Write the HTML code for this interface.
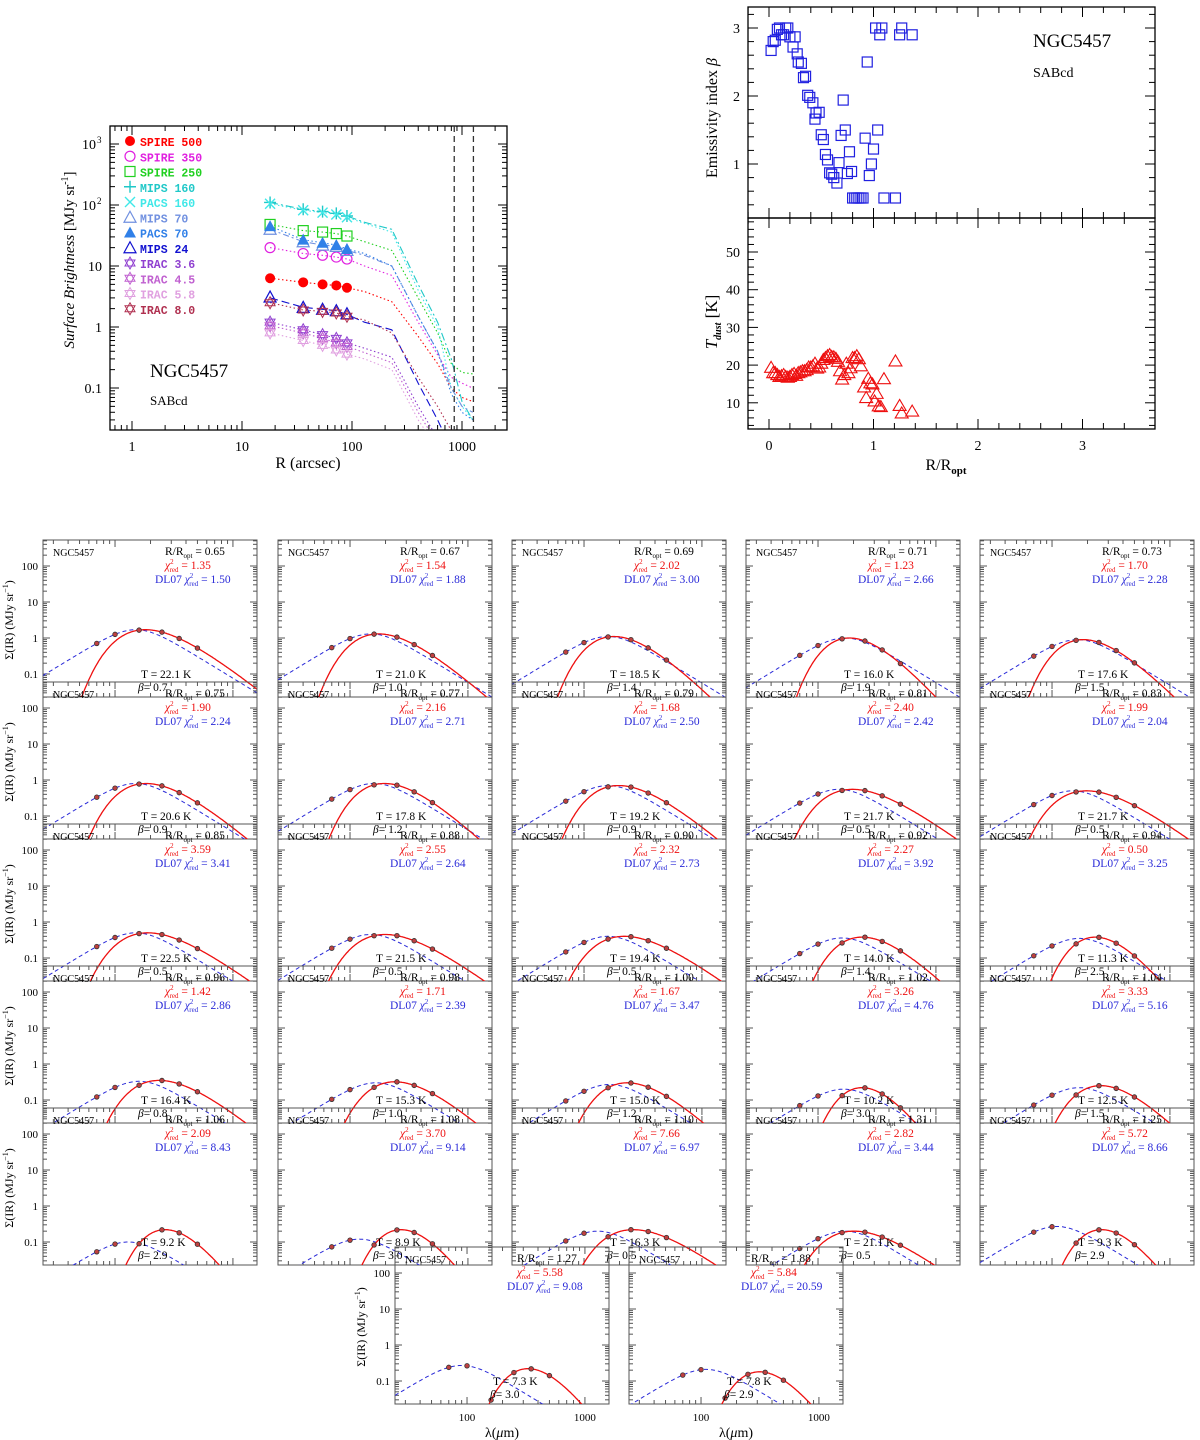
<!DOCTYPE html>
<html><head><meta charset="utf-8"><style>
body{margin:0;background:#fff;}
svg{display:block;font-family:"Liberation Serif","DejaVu Serif",serif;}
</style></head><body>
<svg id="fig" width="1200" height="1440" xmlns="http://www.w3.org/2000/svg"></svg>
<script>
// ---------- Profile data (top-left) ----------
const bandNames=["SPIRE 500","SPIRE 350","SPIRE 250","MIPS 160","PACS 160","MIPS 70","PACS 70","MIPS 24","IRAC 3.6","IRAC 4.5","IRAC 5.8","IRAC 8.0"];
const bandColors=["#ff0000","#e020e0","#20d020","#20c8c8","#40e8e8","#7090e0","#3080e8","#1010d0","#9040d0","#c060d0","#e0a0e0","#b03050"];
const bandSymbols=["fcircle","ocircle","square","plus","cross","otri","ftri","otri","star","star","star","star"];
const profR=[18,36,54,72,90];
const profVals=[
 [6.3,5.4,5.0,4.8,4.4],[20,16,15,14,13],[48,38,36,34,31],[110,85,78,73,66],[105,82,75,70,63],
 [40,25,22,21,18],[45,27,24,22,19],[3.1,2.1,1.95,1.85,1.65],[1.2,0.9,0.75,0.65,0.55],
 [1.05,0.8,0.65,0.55,0.48],[0.8,0.6,0.5,0.42,0.36],[2.5,1.9,1.8,1.7,1.5]];
const lineR=[18,36,54,72,90,130,230,400,600,800,1000,1250];
const lineVals=[
 [6.3,5.4,5.0,4.8,4.4,3.8,2.6,0.7,0.25,0.1,0.07,0.06],
 [20,16,15,14,13,10,7,1.2,0.35,0.15,0.12,0.1],
 [48,38,36,34,31,25,18,3,0.8,0.25,0.18,0.17],
 [110,85,78,73,66,52,40,5,1.2,0.3,0.06,0.03],
 [105,82,75,70,63,50,36,4,1.0,0.1,0.05,0.03],
 [40,25,22,21,18,15,10,1.5,0.4,0.1,0.05,0.04],
 [45,27,24,22,19,16,10,1.5,0.4,0.08,0.04,0.03],
 [3.0,2.1,1.95,1.85,1.6,1.2,0.9,0.12,0.03,0.01,0.01,0.01],
 [1.2,0.9,0.75,0.65,0.55,0.45,0.32,0.05,0.015,0.01,0.01,0.01],
 [1.05,0.8,0.65,0.55,0.48,0.38,0.26,0.04,0.012,0.01,0.01,0.01],
 [0.8,0.6,0.5,0.42,0.36,0.3,0.2,0.03,0.01,0.01,0.01,0.01],
 [2.5,1.9,1.8,1.7,1.5,1.3,0.8,0.15,0.05,0.02,0.015,0.01]];
const vlineR=[850,1270];
// ---------- Beta / T data (top-right) ----------
const betaR=[0.02,0.04,0.06,0.08,0.1,0.12,0.14,0.16,0.18,0.2,0.23,0.25,0.27,0.28,0.31,0.33,0.35,0.37,0.39,0.42,0.44,0.45,0.48,0.5,0.52,0.54,0.56,0.58,0.6,0.62,0.65,0.67,0.69,0.71,0.73,0.75,0.77,0.79,0.8,0.82,0.84,0.86,0.88,0.9,0.92,0.94,0.96,0.98,1.0,1.02,1.04,1.06,1.08,1.1,1.21,1.25,1.27,1.37];
const betaV=[2.67,2.8,2.82,2.98,3.0,2.9,2.9,3.0,3.0,2.87,2.72,2.87,2.62,2.5,2.48,2.27,2.29,2.01,1.98,1.9,1.66,1.75,1.76,1.43,1.36,1.14,1.06,0.87,0.85,0.8,0.72,1.02,1.42,1.94,1.5,0.86,1.18,0.89,0.5,0.5,0.5,0.5,0.5,0.5,1.38,2.5,0.83,1.0,1.22,3.0,1.5,2.9,3.0,0.5,0.5,2.9,3.0,2.9];
const tR=[0.02,0.04,0.06,0.08,0.1,0.12,0.14,0.16,0.18,0.2,0.22,0.24,0.26,0.28,0.3,0.32,0.34,0.36,0.38,0.4,0.42,0.44,0.46,0.48,0.5,0.52,0.54,0.56,0.58,0.6,0.62,0.64,0.66,0.68,0.7,0.72,0.74,0.76,0.78,0.8,0.82,0.84,0.86,0.88,0.91,0.93,0.95,0.97,0.99,1.01,1.03,1.05,1.07,1.1,1.21,1.25,1.27,1.37];
const tV=[19.4,18,18,17.5,17,17.2,17.5,17,16.8,17,17.5,17.8,17.3,18,18.2,18.5,18.5,18.8,19.5,19.5,19.8,20.5,19.2,19.5,20.5,21.5,22,22.5,22.8,22.3,22.2,21.8,21,18.5,16.3,17.5,20.5,18,19.3,22,22,22.5,21.7,19.8,14.2,11.4,16.5,15.3,15,10.5,12.5,9.2,9,16.4,21.1,9.3,7.3,7.8];
// ---------- SED panels ----------
const sedRopt=["0.65","0.67","0.69","0.71","0.73","0.75","0.77","0.79","0.81","0.83","0.85","0.88","0.90","0.92","0.94","0.96","0.98","1.00","1.02","1.04","1.06","1.08","1.10","1.31","1.25","1.27","1.88"];
const sedChi=["1.35","1.54","2.02","1.23","1.70","1.90","2.16","1.68","2.40","1.99","3.59","2.55","2.32","2.27","0.50","1.42","1.71","1.67","3.26","3.33","2.09","3.70","7.66","2.82","5.72","5.58","5.84"];
const sedDL=["1.50","1.88","3.00","2.66","2.28","2.24","2.71","2.50","2.42","2.04","3.41","2.64","2.73","3.92","3.25","2.86","2.39","3.47","4.76","5.16","8.43","9.14","6.97","3.44","8.66","9.08","20.59"];
const sedT=[22.1,21.0,18.5,16.0,17.6,20.6,17.8,19.2,21.7,21.7,22.5,21.5,19.4,14.0,11.3,16.4,15.3,15.0,10.2,12.5,9.2,8.9,16.3,21.1,9.3,7.3,7.8];
const sedBeta=[0.7,1.0,1.4,1.9,1.5,0.9,1.2,0.9,0.5,0.5,0.5,0.5,0.5,1.4,2.5,0.8,1.0,1.2,3.0,1.5,2.9,3.0,0.5,0.5,2.9,3.0,2.9];
const sedPeak=[1.7,1.3,1.1,1.0,0.9,0.8,0.8,0.7,0.55,0.5,0.5,0.45,0.4,0.38,0.38,0.35,0.32,0.3,0.22,0.25,0.22,0.22,0.22,0.2,0.22,0.22,0.18];
const dlPeakWav=[150,150,160,170,165,150,160,160,150,150,150,150,160,160,170,160,165,165,165,170,130,120,130,170,110,90,110];
const dlPeakVal=[1.7,1.3,1.1,1.0,0.9,0.8,0.8,0.7,0.55,0.5,0.5,0.45,0.4,0.36,0.35,0.33,0.3,0.27,0.2,0.22,0.1,0.12,0.2,0.2,0.27,0.27,0.21];
const sedBands=[70,100,160,250,350,500];

const svg=document.getElementById('fig');
const NS="http://www.w3.org/2000/svg";
function el(tag,attrs,parent){const e=document.createElementNS(NS,tag);for(const k in attrs)e.setAttribute(k,attrs[k]);(parent||svg).appendChild(e);return e;}
function txt(x,y,s,size,color,parent,anchor){const t=el('text',{x:x,y:y,'font-size':size,fill:color||'#000','text-anchor':anchor||'start'},parent);t.textContent=s;return t;}
const L=Math.log10;

// ================= Top-left profile plot =================
(function(){
 const g=el('g',{});
 
 
 const x0=110,x1=507,y0=126,y1=430;
 const X=r=>132+110*L(r), Y=v=>327-61*L(v);
 const cp=el('clipPath',{id:'cpProf'},g);el('rect',{x:x0,y:y0,width:x1-x0,height:y1-y0},cp);
 const frame=el('rect',{x:x0,y:y0,width:x1-x0,height:y1-y0,fill:'none',stroke:'#000','stroke-width':1.3},g);
 
 
 for(let d=-1;d<=3;d++)for(let m=1;m<10;m++){const r=m*Math.pow(10,d);const x=X(r);if(x<x0||x>x1)continue;const len=m==1?9:5;
  el('line',{x1:x,x2:x,y1:y1,y2:y1-len,stroke:'#000'},g);el('line',{x1:x,x2:x,y1:y0,y2:y0+len,stroke:'#000'},g);}
 for(let d=-2;d<=3;d++)for(let m=1;m<10;m++){const v=m*Math.pow(10,d);const y=Y(v);if(y<y0||y>y1)continue;const len=m==1?9:5;
  el('line',{y1:y,y2:y,x1:x0,x2:x0+len,stroke:'#000'},g);el('line',{y1:y,y2:y,x1:x1,x2:x1-len,stroke:'#000'},g);}
 [["1",1],["10",10],["100",100],["1000",1000]].forEach(([s,r])=>{const t=txt(X(r),451,s,14,'#000',g,'middle');});
 [["0.1",0.1],["1",1],["10",10]].forEach(([s,v])=>{const t=txt(102,Y(v)+5,s,14,'#000',g,'end');});
 [["10",100,"2"],["10",1000,"3"]].forEach(([s,v,e])=>{const t=txt(96,Y(v)+5,s,14,'#000',g,'end');const s2=txt(97,Y(v)-1,e,9,'#000',g);});
 const xt=txt(308,468,"R (arcsec)",16,'#000',g,'middle');
 const yt=el('text',{x:0,y:0,'font-size':15,'text-anchor':'middle',transform:'translate(74,260) rotate(-90)'},g);
 
 yt.innerHTML='<tspan font-style="italic">Surface Brightness</tspan> [MJy sr<tspan dy="-6" font-size="10">-1</tspan><tspan dy="6">]</tspan>';
 const lg=el('g',{'clip-path':'url(#cpProf)'},g);
 const dash=["1.5 2.5","1.5 2.5","1.5 2.5","8 3 2 3","1.5 2.5","6 3 2 3","1.5 2.5","8 4","1.5 2.5","1.5 2.5","1.5 2.5","1.5 2.5"];
 lineVals.forEach((vals,i)=>{const pts=lineR.map((r,j)=>X(r).toFixed(1)+','+Y(vals[j]).toFixed(1)).join(' ');
  const p=el('polyline',{points:pts,fill:'none',stroke:bandColors[i],'stroke-width':1.1,'stroke-dasharray':dash[i]},lg);
  });
 vlineR.forEach(r=>{const l=el('line',{x1:X(r),x2:X(r),y1:y0,y2:y1,stroke:'#333','stroke-width':1.3,'stroke-dasharray':'6 4'},g);});
 function sym(type,x,y,c,s,par){
  if(type=='fcircle')return el('circle',{cx:x,cy:y,r:s,fill:c},par);
  if(type=='ocircle')return el('circle',{cx:x,cy:y,r:s,fill:'none',stroke:c,'stroke-width':1.2},par);
  if(type=='square')return el('rect',{x:x-s,y:y-s,width:2*s,height:2*s,fill:'none',stroke:c,'stroke-width':1.2},par);
  if(type=='plus')return el('path',{d:`M${x-s-1},${y}h${2*s+2}M${x},${y-s-1}v${2*s+2}`,stroke:c,'stroke-width':1.4},par);
  if(type=='cross')return el('path',{d:`M${x-s},${y-s}L${x+s},${y+s}M${x-s},${y+s}L${x+s},${y-s}`,stroke:c,'stroke-width':1.4},par);
  if(type=='otri')return el('path',{d:`M${x},${y-s-1}L${x+s+1},${y+s}L${x-s-1},${y+s}Z`,fill:'none',stroke:c,'stroke-width':1.2},par);
  if(type=='ftri')return el('path',{d:`M${x},${y-s-1}L${x+s+1},${y+s}L${x-s-1},${y+s}Z`,fill:c},par);
  if(type=='star'){const a=`M${x},${y-s-1}L${x+s},${y+s*0.6}L${x-s},${y+s*0.6}Z`,b=`M${x},${y+s+1}L${x+s},${y-s*0.6}L${x-s},${y-s*0.6}Z`;return el('path',{d:a+b,fill:'none',stroke:c,'stroke-width':1},par);}
 }
 profVals.forEach((vals,i)=>{vals.forEach((v,j)=>{const m=sym(bandSymbols[i],X(profR[j]),Y(v),bandColors[i],5,g);
  });});
 bandNames.forEach((n,i)=>{const y=142+15.25*i;const m=sym(bandSymbols[i],130,y-1,bandColors[i],5,g);
  const t=txt(140,y+4,n,11.5,bandColors[i],g);t.setAttribute('font-family','Liberation Mono, monospace');t.setAttribute('font-weight','bold');
  });
 const n1=txt(150,377,"NGC5457",19,'#000',g);
 const n2=txt(150,405,"SABcd",13,'#000',g);
})();

// ================= Top-right beta & T plot =================
(function(){
 const g=el('g',{});
 
 
 const x0=748,x1=1155,ya=7,ym=218,yb=429;
 const X=r=>769+104.5*r, YB=b=>28+(3-b)*68, YT=t=>252+(50-t)*3.77;
 [[ya,ym],[ym,yb]].forEach(([a,b],k)=>{const f=el('rect',{x:x0,y:a,width:x1-x0,height:b-a,fill:'none',stroke:'#000','stroke-width':1.3},g);
  });
 for(let r=-0.2;r<=3.6;r+=0.2){const rr=Math.round(r*10)/10;const x=X(rr);if(x<x0||x>x1)continue;const big=Math.abs(rr-Math.round(rr))<0.01;const len=big?10:6;
  [ya,ym,yb].forEach((y,k)=>{if(k!=0)el('line',{x1:x,x2:x,y1:y,y2:y-len,stroke:'#000'},g);if(k!=2)el('line',{x1:x,x2:x,y1:y,y2:y+len,stroke:'#000'},g);});}
 for(let b=0.4;b<=3.3;b+=0.2){const bb=Math.round(b*10)/10;const y=YB(bb);if(y<ya||y>ym)continue;const big=Math.abs(bb-Math.round(bb))<0.01;const len=big?10:6;
  el('line',{x1:x0,x2:x0+len,y1:y,y2:y,stroke:'#000'},g);el('line',{x1:x1,x2:x1-len,y1:y,y2:y,stroke:'#000'},g);}
 for(let t=4;t<=58;t+=2){const y=YT(t);if(y<ym||y>yb)continue;const big=t%10==0;const len=big?10:6;
  el('line',{x1:x0,x2:x0+len,y1:y,y2:y,stroke:'#000'},g);el('line',{x1:x1,x2:x1-len,y1:y,y2:y,stroke:'#000'},g);}
 [1,2,3].forEach(b=>{const t=txt(740,YB(b)+5,String(b),14,'#000',g,'end');});
 [10,20,30,40,50].forEach(v=>{const t=txt(740,YT(v)+5,String(v),14,'#000',g,'end');});
 [0,1,2,3].forEach(v=>{const t=txt(X(v),450,String(v),14,'#000',g,'middle');});
 const xt=el('text',{x:946,y:470,'font-size':16,'text-anchor':'middle'},g);xt.innerHTML='R/R<tspan dy="4" font-size="11" font-weight="bold">opt</tspan>';
 
 const yb1=el('text',{x:0,y:0,'font-size':16,'text-anchor':'middle',transform:'translate(717,118) rotate(-90)'},g);
 yb1.innerHTML='Emissivity index <tspan font-style="italic">β</tspan>';
 const yt1=el('text',{x:0,y:0,'font-size':17,'text-anchor':'middle',transform:'translate(717,322) rotate(-90)'},g);
 yt1.innerHTML='<tspan font-style="italic">T</tspan><tspan dy="4" font-size="10" font-style="italic" font-weight="bold">dust</tspan><tspan dy="-4"> [K]</tspan>';
 
 const n1=txt(1033,47,"NGC5457",19,'#000',g);
 const n2=txt(1033,77,"SABcd",14,'#000',g);
 betaR.forEach((r,i)=>{const m=el('rect',{x:X(r)-5,y:YB(betaV[i])-5,width:10,height:10,fill:'none',stroke:'#2020e0','stroke-width':1.2},g);
  });
 tR.forEach((r,i)=>{const x=X(r),y=YT(tV[i]);const m=el('path',{d:`M${x},${y-6}L${x+6.5},${y+5}L${x-6.5},${y+5}Z`,fill:'none',stroke:'#ee1010','stroke-width':1.1},g);
  });
})();

// ================= SED panels =================
function mbb(lam,T,b){const nu=1/lam;return Math.pow(nu,3+b)/(Math.exp(14388/(lam*T))-1);}
function dlShape(u){const a=2.0,b=2.0,k=a/b;return (1+k)*Math.pow(u,a)/(1+k*Math.pow(u,a+b));}
function drawSED(i,x0,y0,opts){
 const g=el('g',{});
 
 
 const w=214,h=157;
 const lmin=L(24.5),lmax=L(1600);
 const X=l=>x0+(L(l)-lmin)/(lmax-lmin)*w, Y=v=>y0+26+(2-L(v))*36;
 const cid='cpS'+i;const cp=el('clipPath',{id:cid},g);el('rect',{x:x0,y:y0,width:w,height:h},cp);
 const fr=el('rect',{x:x0,y:y0,width:w,height:h,fill:'none',stroke:'#555','stroke-width':1},g);
 
 for(let d=1;d<=3;d++)for(let m=1;m<10;m++){const l=m*Math.pow(10,d);const x=X(l);if(x<x0||x>x0+w)continue;const len=m==1?7:4;
  el('line',{x1:x,x2:x,y1:y0+h,y2:y0+h-len,stroke:'#555'},g);el('line',{x1:x,x2:x,y1:y0,y2:y0+len,stroke:'#555'},g);}
 for(let d=-2;d<=2;d++)for(let m=1;m<10;m++){const v=m*Math.pow(10,d);const y=Y(v);if(y<y0||y>y0+h)continue;const len=m==1?7:4;
  el('line',{y1:y,y2:y,x1:x0,x2:x0+len,stroke:'#555'},g);el('line',{y1:y,y2:y,x1:x0+w,x2:x0+w-len,stroke:'#555'},g);}
 if(opts.ylab){[["100",100],["10",10],["1",1],["0.1",0.1]].forEach(([s,v])=>{const t=txt(x0-5,Y(v)+4,s,11,'#000',g,'end');});
  const yt=el('text',{x:0,y:0,'font-size':12,'text-anchor':'middle',transform:`translate(${x0-30},${y0+80}) rotate(-90)`},g);
  yt.innerHTML='Σ(IR) (MJy sr<tspan dy="-5" font-size="8">−1</tspan><tspan dy="5">)</tspan>';}
 if(opts.xlab){[["100",100],["1000",1000]].forEach(([s,v])=>{const t=txt(X(v),y0+h+17,s,11,'#000',g,'middle');});
  const xt=el('text',{x:x0+w/2,y:y0+h+33,'font-size':14,'text-anchor':'middle'},g);xt.innerHTML='λ(<tspan font-style="italic">μ</tspan>m)';}
 const cg=el('g',{'clip-path':`url(#${cid})`},g);
 const T=sedT[i],b=sedBeta[i];let mx=0;const grid=[];for(let k=0;k<=200;k++){const l=Math.pow(10,lmin+(lmax-lmin)*k/200);const v=mbb(l,T,b);grid.push([l,v]);if(v>mx)mx=v;}
 const sc=sedPeak[i]/mx;
 const rp=grid.map(([l,v])=>X(l).toFixed(1)+','+Math.min(Y(Math.max(v*sc,1e-6)),y0+h+50).toFixed(1)).join(' ');
 const bp=[];for(let k=0;k<=200;k++){const l=Math.pow(10,lmin+(lmax-lmin)*k/200);const val=dlPeakVal[i]*dlShape(l/dlPeakWav[i]);bp.push(X(l).toFixed(1)+','+Math.min(Y(Math.max(val,1e-6)),y0+h+50).toFixed(1));}
 const blue=el('polyline',{points:bp.join(' '),fill:'none',stroke:'#2a2ad8','stroke-width':1,'stroke-dasharray':'4 3'},cg);
 const red=el('polyline',{points:rp,fill:'none',stroke:'#ee1010','stroke-width':1.3},cg);
 sedBands.forEach(l=>{let v=l>=160?mbb(l,T,b)*sc:dlPeakVal[i]*dlShape(l/dlPeakWav[i]);const c=el('circle',{cx:X(l),cy:Y(v),r:2.3,fill:'#c04040',stroke:'#333','stroke-width':0.8},cg);});
 const a=txt(x0+10,y0+16,"NGC5457",10,'#000',g);
 const r=el('text',{x:x0+122,y:y0+15,'font-size':11.5},g);r.innerHTML='R/R<tspan dy="3" font-size="7">opt</tspan><tspan dy="-3"> = '+sedRopt[i]+'</tspan>';
 const c=el('text',{x:x0+122,y:y0+29,'font-size':11.5,fill:'#ee1010'},g);c.innerHTML='<tspan font-style="italic">χ</tspan><tspan dy="-5" font-size="7">2</tspan><tspan dy="8" dx="-4" font-size="7">red</tspan><tspan dy="-3"> = '+sedChi[i]+'</tspan>';
 const d=el('text',{x:x0+112,y:y0+43,'font-size':11.5,fill:'#2a2ad8'},g);d.innerHTML='DL07 <tspan font-style="italic">χ</tspan><tspan dy="-5" font-size="7">2</tspan><tspan dy="8" dx="-4" font-size="7">red</tspan><tspan dy="-3"> = '+sedDL[i]+'</tspan>';
 const tt=txt(x0+98,y0+138,"T = "+sedT[i].toFixed(1)+" K",11.5,'#000',g);
 const bt=el('text',{x:x0+95,y:y0+151,'font-size':11.5},g);bt.innerHTML='<tspan font-style="italic">β</tspan>= '+sedBeta[i].toFixed(1);
}
const colX=[43,278,512,746,980];
for(let i=0;i<25;i++){const r=Math.floor(i/5),c=i%5;drawSED(i,colX[c],540+142*r,{ylab:c==0,xlab:false});}
drawSED(25,395,1247,{ylab:true,xlab:true});
drawSED(26,629,1247,{ylab:false,xlab:true});
</script>
</body></html>
